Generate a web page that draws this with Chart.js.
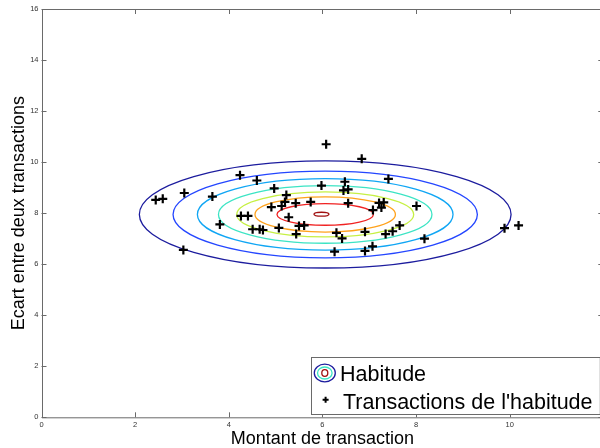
<!DOCTYPE html>
<html>
<head>
<meta charset="utf-8">
<script src="https://cdn.jsdelivr.net/npm/chart.js@4.4.0/dist/chart.umd.min.js"></script>
<style>
  html, body { margin: 0; padding: 0; background: #fff; overflow: hidden; }
  #boite { position: relative; width: 610px; height: 448px; }
</style>
</head>
<body>
<div id="boite"><canvas id="graphique"></canvas></div>
<script>
// transactions : montant (x) et écart (y)
const montants = [2.44, 2.59, 3.05, 3.03, 3.65, 3.81, 4.24, 4.60, 4.26, 4.41,
                  4.51, 4.66, 4.73, 4.97, 4.91, 5.13, 5.20, 5.23, 5.43, 5.28,
                  5.07, 5.50, 5.61, 5.44, 5.75, 5.98, 6.08, 6.30, 6.42, 6.26,
                  6.48, 6.45, 6.55, 6.55, 6.84, 6.91, 6.91, 7.07, 7.08, 7.21,
                  7.31, 7.26, 7.41, 7.35, 7.50, 7.65, 8.01, 8.18, 9.89, 10.19];
const ecarts = [8.52, 8.56, 8.79, 6.56, 8.65, 7.56, 9.49, 9.28, 7.89, 7.89,
                7.37, 7.37, 7.34, 8.97, 8.24, 8.28, 8.44, 8.71, 8.39, 7.84,
                7.42, 7.50, 7.52, 7.18, 8.44, 9.08, 10.70, 7.23, 7.01, 6.49,
                9.23, 8.89, 8.93, 8.39, 10.13, 7.27, 6.52, 6.70, 8.12, 8.40,
                8.42, 8.22, 9.34, 7.18, 7.29, 7.52, 8.28, 7.00, 7.41, 7.52];

// courbes de niveau de l'habitude (de l'extérieur vers l'intérieur)
const niveauxCentreX = [6.06, 6.06, 6.06, 6.06, 6.06, 6.06, 6.06, 5.98];
const niveauxCentreY = [7.95, 7.95, 7.95, 7.95, 7.95, 7.95, 7.95, 7.96];
const niveauxDemiLargeur = [3.97, 3.25, 2.73, 2.28, 1.89, 1.50, 1.03, 0.16];
const niveauxDemiHauteur = [2.10, 1.70, 1.40, 1.13, 0.88, 0.69, 0.425, 0.075];

const graduationsX = [0, 2, 4, 6, 8, 10, 12];
const etiquettesX = ['0', '2', '4', '6', '8', '10', ''];   // le 12 sort de la fenêtre
const graduationsY = [0, 2, 4, 6, 8, 10, 12, 14, 16];

const couleursNiveaux = ['#1c1c9e', '#2446ff', '#10a6f4', '#3ce4c4', '#c6f044', '#ffa21c', '#f02222', '#a01010'];
const police = '"Liberation Sans", Arial, sans-serif';

const courbesNiveau = {
    id: 'courbesNiveau',
    beforeDatasetsDraw(chart) {
        const ctx = chart.ctx;
        const sx = chart.scales.x;
        const sy = chart.scales.y;
        ctx.save();
        ctx.lineWidth = 1.3;
        niveauxDemiLargeur.forEach((dl, i) => {
            const cx = sx.getPixelForValue(niveauxCentreX[i]);
            const cy = sy.getPixelForValue(niveauxCentreY[i]);
            const rx = sx.getPixelForValue(niveauxCentreX[i] + dl) - cx;
            const ry = cy - sy.getPixelForValue(niveauxCentreY[i] + niveauxDemiHauteur[i]);
            ctx.strokeStyle = couleursNiveaux[i];
            ctx.beginPath();
            ctx.ellipse(cx, cy, rx, ry, 0, 0, Math.PI * 2);
            ctx.stroke();
        });
        ctx.restore();
    }
};

// cadre façon matlab : graduations vers l'intérieur sur les quatre côtés
const cadre = {
    id: 'cadre',
    afterDatasetsDraw(chart) {
        const ctx = chart.ctx;
        const a = chart.chartArea;
        const sx = chart.scales.x;
        const sy = chart.scales.y;
        ctx.save();
        ctx.strokeStyle = '#6a6a6a';
        ctx.lineWidth = 1;
        ctx.strokeRect(Math.round(a.left) + 0.5, Math.round(a.top) + 0.5, a.right - a.left, a.bottom - a.top);
        ctx.beginPath();
        graduationsX.forEach(v => {
            const p = Math.round(sx.getPixelForValue(v)) + 0.5;
            ctx.moveTo(p, a.bottom); ctx.lineTo(p, a.bottom - 5);
            ctx.moveTo(p, a.top); ctx.lineTo(p, a.top + 5);
        });
        graduationsY.forEach(v => {
            const p = Math.round(sy.getPixelForValue(v)) + 0.5;
            ctx.moveTo(a.left, p); ctx.lineTo(a.left + 5, p);
            ctx.moveTo(a.right, p); ctx.lineTo(a.right - 5, p);
        });
        ctx.stroke();
        ctx.restore();
    }
};

const legende = {
    id: 'legende',
    afterDraw(chart) {
        const ctx = chart.ctx;
        const a = chart.chartArea;
        const gauche = 311.5, haut = 357.5;
        const bas = Math.round(a.bottom - 3.3) + 0.5;
        const droite = a.right - 3;
        ctx.save();
        ctx.fillStyle = '#fff';
        ctx.fillRect(gauche, haut, droite - gauche, bas - haut);
        ctx.strokeStyle = '#6a6a6a';
        ctx.lineWidth = 1;
        ctx.strokeRect(gauche, haut, droite - gauche, bas - haut);

        // icône de l'habitude
        const ix = 324.8, iy = 373;
        ctx.lineWidth = 1.3;
        [[10.5, 8.8, couleursNiveaux[0]], [7.3, 6, couleursNiveaux[3]], [3, 3.3, couleursNiveaux[7]]].forEach(([rx, ry, c]) => {
            ctx.strokeStyle = c;
            ctx.beginPath();
            ctx.ellipse(ix, iy, rx, ry, 0, 0, Math.PI * 2);
            ctx.stroke();
        });
        // icône des transactions
        ctx.strokeStyle = '#000';
        ctx.lineWidth = 2;
        ctx.beginPath();
        ctx.moveTo(ix + 0.8 - 3, 399.7); ctx.lineTo(ix + 0.8 + 3, 399.7);
        ctx.moveTo(ix + 0.8, 396.7); ctx.lineTo(ix + 0.8, 402.7);
        ctx.stroke();

        ctx.fillStyle = '#000';
        ctx.font = '21.5px ' + police;
        ctx.textAlign = 'left';
        ctx.textBaseline = 'alphabetic';
        ctx.fillText('Habitude', 340, 380.5);
        ctx.fillText("Transactions de l'habitude", 343, 408.5);
        ctx.restore();
    }
};

new Chart(document.getElementById('graphique'), {
    type: 'scatter',
    data: {
        datasets: [{
            label: "Transactions de l'habitude",
            data: montants.map((m, i) => ({ x: m, y: ecarts[i] })),
            pointStyle: 'cross',
            pointRadius: 4.5,
            pointBorderWidth: 2.2,
            borderColor: '#000',
            backgroundColor: '#000'
        }]
    },
    options: {
        responsive: true,
        maintainAspectRatio: false,
        animation: false,
        layout: { padding: { top: 9, right: 6.3, left: 0, bottom: 0 } },
        plugins: { legend: { display: false }, tooltip: { enabled: false } },
        scales: {
            x: {
                type: 'linear',
                min: 0,
                max: 12,
                afterBuildTicks: s => { s.ticks = graduationsX.map(v => ({ value: v })); },
                afterFit: s => { s.height = 30.7; },
                grid: { display: false, drawTicks: false },
                border: { display: false },
                ticks: {
                    color: '#333',
                    padding: 3.5,
                    maxRotation: 0,
                    font: { family: police, size: 7.5 },
                    callback: (v, i) => etiquettesX[i]
                },
                title: {
                    display: true,
                    text: 'Montant de transaction',
                    color: '#000',
                    padding: 0,
                    font: { family: police, size: 18, lineHeight: 1 }
                }
            },
            y: {
                type: 'linear',
                min: 0,
                max: 16,
                afterBuildTicks: s => { s.ticks = graduationsY.map(v => ({ value: v })); },
                afterFit: s => { s.width = 41.5; },
                grid: { display: false, drawTicks: false },
                border: { display: false },
                ticks: { color: '#333', padding: 3, font: { family: police, size: 7.5 } },
                title: {
                    display: true,
                    text: 'Ecart entre deux transactions',
                    color: '#000',
                    padding: { top: 9.7, bottom: 0 },
                    font: { family: police, size: 18, lineHeight: 1 }
                }
            }
        }
    },
    plugins: [courbesNiveau, cadre, legende]
});
</script>
</body>
</html>
